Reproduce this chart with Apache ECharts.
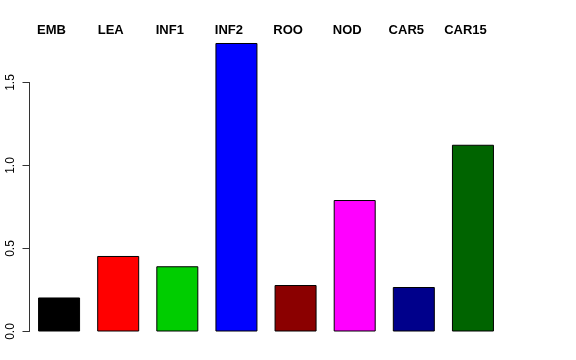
<!DOCTYPE html>
<html>
<head>
<meta charset="utf-8">
<script src="https://cdn.jsdelivr.net/npm/echarts@6/dist/echarts.min.js"></script>
<style>html,body{margin:0;padding:0;background:#fff}#c{width:576px;height:360px}</style>
</head>
<body>
<div id="c"></div>
<script>
const categories = ['EMB', 'LEA', 'INF1', 'INF2', 'ROO', 'NOD', 'CAR5', 'CAR15'];
const values = [0.205, 0.455, 0.393, 1.738, 0.28, 0.792, 0.268, 1.125];
const colors = ['#000000', '#ff0000', '#00cd00', '#0000ff', '#8b0000', '#ff00ff', '#00008b', '#006400'];
const yTicks = [0, 0.5, 1.0, 1.5];

const chart = echarts.init(document.getElementById('c'), null, {renderer: 'canvas'});
const pxPerUnit = 166;
const y0 = 331.5;
const gridLeft = 29.5, gridRight = 73.5;
const yMaxBars = 1.8;
const yMaxAxis = yTicks[yTicks.length - 1];

chart.setOption({
  animation: false,
  backgroundColor: '#ffffff',
  grid: [
    {left: gridLeft, right: gridRight, top: y0 - yMaxBars * pxPerUnit, height: yMaxBars * pxPerUnit},
    {left: gridLeft, right: gridRight, top: y0 - yMaxAxis * pxPerUnit, height: yMaxAxis * pxPerUnit}
  ],
  xAxis: [
    {
      gridIndex: 0, type: 'category', data: categories, position: 'top',
      axisLine: {show: false}, axisTick: {show: false},
      axisLabel: {
        margin: -4, color: '#000', fontFamily: 'Liberation Sans, Arial, sans-serif',
        fontWeight: 'bold', fontSize: 13, padding: [0, 15, 0, 0]
      }
    },
    {gridIndex: 1, type: 'category', data: categories, show: false}
  ],
  yAxis: [
    {gridIndex: 0, type: 'value', min: 0, max: yMaxBars, show: false},
    {
      gridIndex: 1, type: 'value', min: 0, max: yMaxAxis, interval: 0.5,
      axisLine: {show: true, lineStyle: {color: '#333', width: 1}},
      axisTick: {show: true, length: 7, lineStyle: {color: '#333'}},
      splitLine: {show: false},
      axisLabel: {
        rotate: 90, margin: 13, color: '#000', fontSize: 12,
        fontFamily: 'Liberation Sans, Arial, sans-serif',
        formatter: v => v.toFixed(1)
      }
    }
  ],
  series: [{
    type: 'bar', xAxisIndex: 0, yAxisIndex: 0,
    barWidth: 42,
    data: values.map((v, i) => ({value: v, itemStyle: {color: colors[i]}})),
    itemStyle: {borderColor: '#000', borderWidth: 1}
  }]
});
</script>
</body>
</html>
